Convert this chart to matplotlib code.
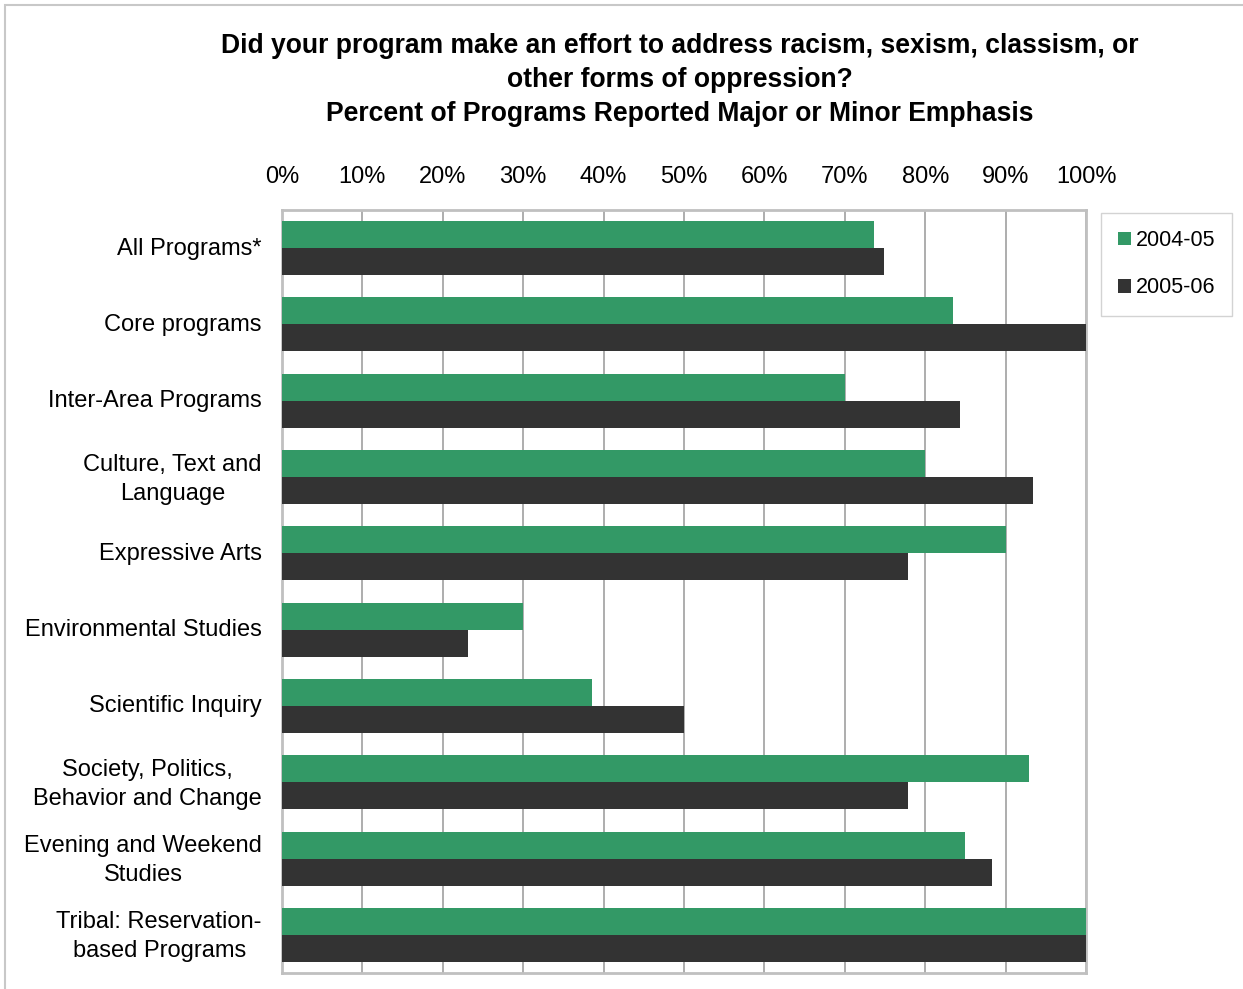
import numpy as np
import matplotlib
matplotlib.use('Agg')
import matplotlib.pyplot as plt
import matplotlib.transforms as mtransforms
from matplotlib.patches import Rectangle

plt.rcParams['font.family'] = ['Liberation Sans', 'DejaVu Sans']

# Data
categories = ['All Programs*', 'Core programs', 'Inter-Area Programs',
              'Culture, Text and\nLanguage', 'Expressive Arts',
              'Environmental Studies', 'Scientific Inquiry',
              'Society, Politics,\nBehavior and Change',
              'Evening and Weekend\nStudies', 'Tribal: Reservation-\nbased Programs']
pct_2004 = [73.6, 83.5, 70.0, 80.0, 90.0, 30.0, 38.5, 92.9, 85.0, 100.0]
pct_2005 = [74.9, 100.0, 84.3, 93.4, 77.8, 23.1, 50.0, 77.8, 88.3, 100.0]
series_names = ['2004-05', '2005-06']
green = '#339966'
dark = '#333333'

W, H = 1243, 989
fig = plt.figure(figsize=(W / 100, H / 100), dpi=100)

# outer chart border (only left and top edges are visible)
fig.patches.append(Rectangle((5 / W, -0.2), 1.2, 1.2 - 5 / H, transform=fig.transFigure,
                             fill=False, edgecolor='#c8c8c8', linewidth=1.5))

ax = fig.add_axes([282 / W, 1 - 973 / H, (1086 - 282) / W, (973 - 210) / H])

y = np.arange(len(categories))
bh = 0.354
ax.barh(y - bh / 2, pct_2004, height=bh, color=green, label=series_names[0], zorder=3)
ax.barh(y + bh / 2, pct_2005, height=bh, color=dark, label=series_names[1], zorder=3)

ax.set_xlim(0, 100)
ax.set_ylim(len(categories) - 0.5, -0.5)
ax.set_xticks(np.arange(0, 101, 10))
ax.set_xticklabels([f'{v}%' for v in range(0, 101, 10)])
ax.xaxis.tick_top()
ax.tick_params(axis='x', length=0, pad=16, labelsize=17)
ax.tick_params(axis='y', length=0, pad=14.5, labelsize=17)
ax.set_yticks(y)
ax.set_yticklabels(categories, multialignment='center', linespacing=1.42)
# nudge category labels up a touch (multi-line ones a bit more)
for lbl in ax.get_yticklabels():
    dy = 4 if '\n' in lbl.get_text() else 2
    lbl.set_transform(lbl.get_transform() +
                      mtransforms.ScaledTranslation(0, dy / 100, fig.dpi_scale_trans))
ax.xaxis.grid(True, color='#a0a0a0', linewidth=1.2, zorder=0)
for s in ax.spines.values():
    s.set_color('#c0c0c0')
    s.set_linewidth(2)

leg = fig.legend(loc='upper left', bbox_to_anchor=(1101 / W, 1 - 213 / H),
                 frameon=True, fancybox=False, edgecolor='#c8c8c8', fontsize=15.5,
                 handlelength=0.6, handleheight=0.6, handletextpad=0.2,
                 labelspacing=1.22, borderpad=0.8, borderaxespad=0)
leg.get_frame().set_linewidth(1)

title_lines = ['Did your program make an effort to address racism, sexism, classism, or',
               'other forms of oppression?',
               'Percent of Programs Reported Major or Minor Emphasis']
for i, line in enumerate(title_lines):
    fig.text(680 / W, 1 - (46 + 34 * i) / H, line,
             ha='center', va='center', fontsize=19.1, fontweight='bold')

fig.savefig('out.png', dpi=100)
